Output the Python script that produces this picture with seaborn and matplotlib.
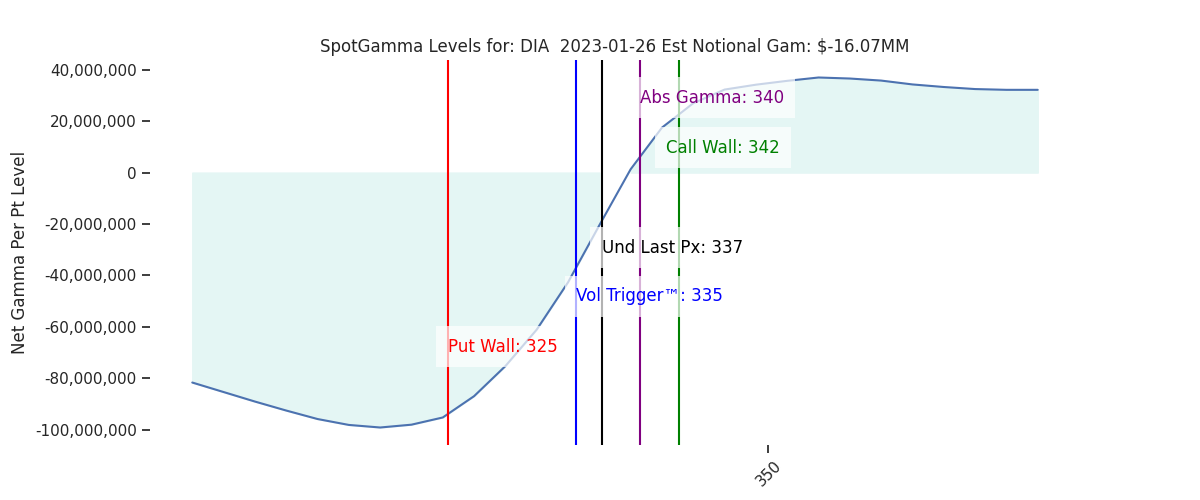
import numpy as np
import pandas as pd
import seaborn as sns
import matplotlib.pyplot as plt
from matplotlib.ticker import FuncFormatter

# price levels and net gamma per point
levels = [305.1, 307.54, 309.98, 312.42, 314.86, 317.3, 319.74, 322.18, 324.62,
          327.06, 329.5, 331.94, 334.38, 336.82, 339.26, 341.7, 344.14, 346.58,
          349.02, 351.46, 353.9, 356.34, 358.78, 361.22, 363.66, 366.1, 368.54, 370.98]
gamma_mm = [-81.7, -85.4, -89.1, -92.6, -95.9, -98.2, -99.2, -98.1, -95.3,
            -87.0, -75.3, -61.1, -42.7, -20.5, 1.3, 17.5, 27.0, 32.3,
            34.2, 35.7, 37.0, 36.6, 35.8, 34.3, 33.3, 32.5, 32.2, 32.2]

# key levels: name, line position, label value, colour, label height (MM)
key_names = ['Put Wall', 'Vol Trigger™', 'Und Last Px', 'Abs Gamma', 'Call Wall']
key_lines = [325, 335, 337, 340, 343]
key_labels = [325, 335, 337, 340, 342]
key_colors = ['red', 'blue', 'black', 'purple', 'green']
key_text_y = [-67.7, -48.2, -29.2, 29.2, 9.7]

df = pd.DataFrame({'level': levels, 'gamma': np.array(gamma_mm) * 1e6})

sns.set_theme(style="ticks")
fig, ax = plt.subplots(figsize=(12, 5), dpi=100)

sns.lineplot(data=df, x='level', y='gamma', ax=ax, color='#4c72b0', linewidth=1.5)
ax.fill_between(df['level'], 0, df['gamma'], where=df['gamma'] < 0, color='#e4f6f4', zorder=0)
ax.fill_between(df['level'], 0, df['gamma'], where=df['gamma'] > 0, color='#e4f6f4', zorder=0)

for name, xl, lab, col, ty in zip(key_names, key_lines, key_labels, key_colors, key_text_y):
    ax.axvline(xl, color=col, linewidth=1.5)
    ax.text(lab, ty * 1e6, f'{name}: {lab}', color=col, fontsize=12, va='center',
            zorder=5, bbox=dict(facecolor='white', alpha=0.7, edgecolor='none', pad=8))

ax.set_xticks([350])
ax.tick_params(axis='x', labelrotation=45)
ax.yaxis.set_major_formatter(FuncFormatter(lambda v, p: f'{v:,.0f}'))
ax.set_xlabel('')
ax.set_ylabel('Net Gamma Per Pt Level')
ax.set_title('SpotGamma Levels for: DIA  2023-01-26 Est Notional Gam: $-16.07MM')
sns.despine(left=True, bottom=True)

plt.savefig('out.png')
